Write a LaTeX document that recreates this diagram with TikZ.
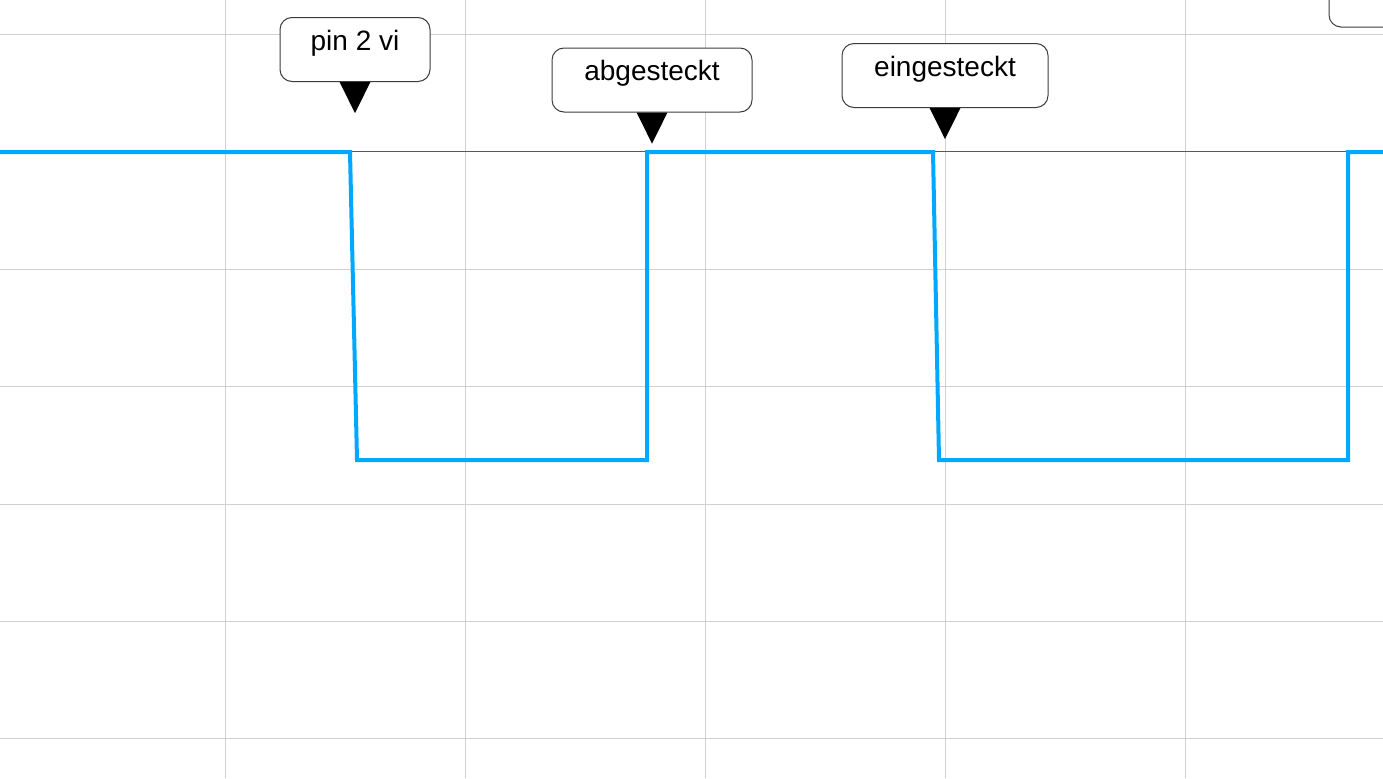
\documentclass[tikz,border=0pt]{standalone}
\usepackage{fontspec}
\setmainfont{Liberation Sans}
\usetikzlibrary{positioning}
\definecolor{signalBlue}{RGB}{0,168,255}
\definecolor{gridGray}{RGB}{208,208,208}
\definecolor{boxGray}{RGB}{60,60,60}
\tikzset{
    gridLinie/.style={
           draw=gridGray,
           line width=0.75pt},
    nullLinie/.style={
           draw=black!65,
           line width=1pt},
    signal/.style={
           draw=signalBlue,
           line width=3pt,
           line join=miter},
    marke/.style={
           rectangle,
           rounded corners=9pt,
           draw=boxGray, line width=0.75pt,
           fill=white,
           minimum height=48pt,
           text height=15pt,
           text depth=14pt,
           font=\fontsize{21}{25}\selectfont,
           align=center},
}

\begin{document}
\begin{tikzpicture}[x=0.75pt, y=-0.75pt]
	\useasboundingbox (0,0) rectangle (1383,778);
	\fill[white] (0,0) rectangle (1383,778);
	% grid
	\foreach \gx in {225.5,465.5,705,945,1185}
		\draw[gridLinie] (\gx,0) -- (\gx,778);
	\foreach \gy in {34,269,386.5,504,621,738.5}
		\draw[gridLinie] (0,\gy) -- (1383,\gy);
	\draw[nullLinie] (0,151.5) -- (1383,151.5);
	% signal
	\draw[signal] (0,152) -- (350,152) -- (357,460) -- (647,460) -- (647,152) -- (933,152) -- (939,460) -- (1348,460) -- (1348,152) -- (1383,152);
	% labels
	\node[marke, minimum width=112.5pt] (pinVi) at (355,49.5) {pin 2 vi};
	\node[marke, minimum width=150pt] (abgesteckt) at (652,80) {abgesteckt};
	\node[marke, minimum width=154.5pt] (eingesteckt) at (945,75.5) {eingesteckt};
	\foreach \m in {pinVi,abgesteckt,eingesteckt}
		\fill[black] ([xshift=-11.6pt]\m.south) -- ([xshift=11.6pt]\m.south) -- ([yshift=-23.3pt]\m.south) -- cycle;
	\draw[boxGray, line width=0.75pt, rounded corners=9pt] (1400,-20) rectangle (1329,27);
\end{tikzpicture}
\end{document}
